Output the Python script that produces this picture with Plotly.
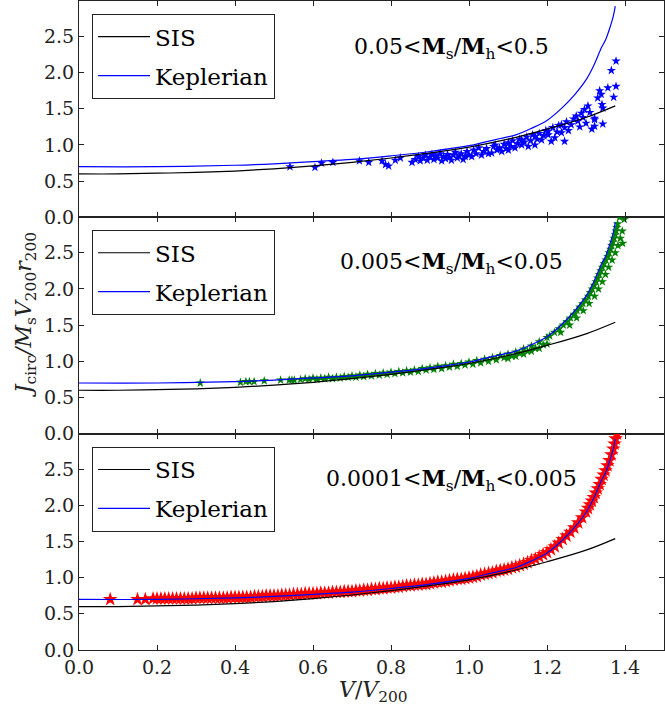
import plotly.graph_objects as go
from plotly.subplots import make_subplots

# ---------------- data ----------------
sis_x = [0.0, 0.1, 0.2, 0.3, 0.4, 0.5, 0.6, 0.7, 0.8, 0.9, 1.0, 1.1, 1.2, 1.3, 1.375]
sis_y = [0.60, 0.60, 0.61, 0.62, 0.64, 0.67, 0.71, 0.76, 0.82, 0.89, 0.97, 1.08, 1.22, 1.38, 1.54]

kep_x = [0.0, 0.2, 0.4, 0.5, 0.6, 0.7, 0.8, 0.9, 1.0, 1.04, 1.08, 1.12, 1.16, 1.2, 1.24,
         1.27, 1.3, 1.32, 1.34, 1.35, 1.36, 1.37, 1.375]
kep_y = [0.70, 0.70, 0.72, 0.74, 0.77, 0.80, 0.85, 0.91, 0.99, 1.04, 1.09, 1.14, 1.23, 1.34, 1.52,
         1.69, 1.90, 2.10, 2.35, 2.45, 2.60, 2.78, 2.92]

# top panel (0.05 < Ms/Mh < 0.5), blue stars
top_x = [0.541, 0.605, 0.622, 0.651, 0.719, 0.743, 0.777, 0.786, 0.794, 0.811, 0.824, 0.854,
         0.862, 0.870, 0.875, 0.882, 0.888, 0.893, 0.900, 0.905, 0.910, 0.915, 0.920, 0.926,
         0.930, 0.935, 0.940, 0.945, 0.950, 0.955, 0.960, 0.965, 0.970, 0.975, 0.980, 0.985,
         0.990, 0.995, 1.000, 1.007, 1.012, 1.018, 1.025, 1.032, 1.038, 1.045, 1.050, 1.058,
         1.063, 1.067, 1.072, 1.078, 1.084, 1.090, 1.095, 1.101, 1.101, 1.108, 1.112, 1.118,
         1.124, 1.130, 1.135, 1.135, 1.142, 1.148, 1.152, 1.158, 1.163, 1.169, 1.169, 1.175,
         1.180, 1.186, 1.192, 1.197, 1.203, 1.203, 1.211, 1.215, 1.220, 1.226, 1.230, 1.237,
         1.237, 1.245, 1.245, 1.250, 1.255, 1.262, 1.268, 1.275, 1.279, 1.284, 1.288, 1.292,
         1.296, 1.300, 1.305, 1.310, 1.315, 1.322, 1.322, 1.322, 1.330, 1.335, 1.339, 1.341,
         1.343, 1.343, 1.356, 1.365, 1.371, 1.377, 1.377]
top_y = [0.70, 0.69, 0.75, 0.76, 0.78, 0.76, 0.78, 0.73, 0.71, 0.79, 0.82, 0.76,
         0.80, 0.84, 0.78, 0.82, 0.86, 0.79, 0.83, 0.87, 0.80, 0.85, 0.82, 0.88,
         0.78, 0.84, 0.81, 0.87, 0.83, 0.79, 0.86, 0.90, 0.82, 0.85, 0.88, 0.80,
         0.84, 0.91, 0.86, 0.84, 0.93, 0.88, 0.96, 0.86, 0.91, 0.95, 0.88, 0.89,
         0.98, 1.00, 0.93, 0.96, 0.91, 1.01, 0.95, 0.93, 1.03, 0.98, 1.06, 0.96,
         1.02, 1.08, 1.00, 1.07, 1.04, 1.11, 0.98, 1.06, 1.14, 1.00, 1.12, 1.08,
         1.16, 1.07, 1.13, 1.20, 1.14, 1.19, 1.05, 1.24, 1.10, 1.18, 1.27, 1.17,
         1.28, 1.24, 1.05, 1.32, 1.20, 1.28, 1.36, 1.40, 1.33, 1.25, 1.44, 1.38,
         1.49, 1.30, 1.54, 1.45, 1.22, 1.35, 1.26, 1.37, 1.65, 1.75, 1.70, 1.56,
         1.51, 1.29, 1.79, 2.03, 1.66, 1.81, 2.16]

# middle panel (0.005 < Ms/Mh < 0.05), green stars
mid_x = [0.311, 0.414, 0.428, 0.437, 0.449, 0.475, 0.517, 0.539, 0.546, 0.552, 0.568,
         0.58, 0.60, 0.62, 0.64, 0.66, 0.68, 0.70, 0.72, 0.74, 0.76, 0.78, 0.80, 0.82, 0.84,
         0.86, 0.88, 0.90, 0.92, 0.94, 0.96, 0.98, 1.00, 1.02, 1.04, 1.06, 1.08, 1.10, 1.12,
         1.14, 1.16, 1.18, 1.20,
         0.59, 0.61, 0.63, 0.65, 0.67, 0.69, 0.71, 0.73, 0.75, 0.77, 0.79, 0.81, 0.83, 0.85,
         0.87, 0.89, 0.91, 0.93, 0.95, 0.97, 0.99, 1.01, 1.03, 1.05, 1.07, 1.09, 1.11, 1.13,
         1.15, 1.17, 1.19,
         1.10, 1.12, 1.14, 1.16, 1.18, 1.20,
         1.207, 1.219, 1.231, 1.242, 1.251, 1.260, 1.269, 1.277, 1.284, 1.292, 1.299, 1.306,
         1.311, 1.316, 1.321, 1.326, 1.330, 1.334, 1.338, 1.342, 1.346, 1.351, 1.356, 1.359,
         1.363, 1.366, 1.369, 1.372, 1.375, 1.377, 1.379, 1.381,
         1.235, 1.258, 1.276, 1.293, 1.308, 1.322, 1.332, 1.342, 1.350, 1.358, 1.367, 1.375,
         1.382, 1.388, 1.393,
         1.386, 1.398, 1.394]
mid_y = [0.70, 0.71, 0.72, 0.72, 0.72, 0.73, 0.74, 0.74, 0.74, 0.74, 0.75,
         0.76, 0.77, 0.77, 0.78, 0.78, 0.79, 0.80, 0.81, 0.82, 0.83, 0.84, 0.85, 0.86, 0.87,
         0.88, 0.90, 0.91, 0.93, 0.94, 0.96, 0.97, 0.99, 1.01, 1.03, 1.05, 1.08, 1.10, 1.13,
         1.17, 1.21, 1.27, 1.33,
         0.75, 0.75, 0.76, 0.76, 0.77, 0.78, 0.78, 0.79, 0.80, 0.81, 0.82, 0.83, 0.84, 0.85,
         0.86, 0.88, 0.89, 0.90, 0.92, 0.93, 0.95, 0.96, 0.98, 1.00, 1.02, 1.05, 1.07, 1.11,
         1.14, 1.18, 1.23,
         1.04, 1.07, 1.10, 1.14, 1.18, 1.24,
         1.35, 1.40, 1.45, 1.50, 1.55, 1.60, 1.65, 1.70, 1.75, 1.80, 1.85, 1.90,
         1.95, 2.00, 2.05, 2.10, 2.15, 2.20, 2.25, 2.30, 2.35, 2.40, 2.45, 2.50,
         2.55, 2.60, 2.65, 2.70, 2.75, 2.80, 2.85, 2.90,
         1.40, 1.50, 1.60, 1.70, 1.80, 1.90, 2.00, 2.10, 2.20, 2.30, 2.40, 2.50,
         2.60, 2.70, 2.80,
         2.99, 2.96, 2.63]

# bottom panel (0.0001 < Ms/Mh < 0.005), red stars
low_x = [0.08, 0.15, 0.17,
         0.19, 0.20, 0.21, 0.22, 0.23, 0.24, 0.25, 0.26, 0.27, 0.28, 0.29,
         0.30, 0.31, 0.32, 0.33, 0.34, 0.35, 0.36, 0.37, 0.38, 0.39,
         0.40, 0.41, 0.42, 0.43, 0.44, 0.45, 0.46, 0.47, 0.48, 0.49,
         0.50, 0.51, 0.52, 0.53, 0.54, 0.55, 0.56, 0.57, 0.58, 0.59,
         0.60, 0.61, 0.62, 0.63, 0.64, 0.65, 0.66, 0.67, 0.68, 0.69,
         0.70, 0.71, 0.72, 0.73, 0.74, 0.75, 0.76, 0.77, 0.78, 0.79,
         0.80, 0.81, 0.82, 0.83, 0.84, 0.85, 0.86, 0.87, 0.88, 0.89,
         0.90, 0.91, 0.92, 0.93, 0.94, 0.95, 0.96, 0.97, 0.98, 0.99,
         1.00, 1.01, 1.02, 1.03, 1.04, 1.05, 1.06, 1.07, 1.08, 1.09,
         1.10, 1.11, 1.12, 1.13, 1.14, 1.15, 1.16, 1.17, 1.18, 1.19,
         1.20, 1.21, 1.22, 1.23, 1.24, 1.25, 1.26, 1.27, 1.28, 1.29,
         1.30, 1.305, 1.31, 1.315, 1.32, 1.325, 1.33, 1.335, 1.34, 1.345,
         1.35, 1.355, 1.36, 1.365, 1.37, 1.373, 1.376, 1.379, 1.382]
low_y = [0.70, 0.70, 0.70,
         0.71, 0.71, 0.71, 0.71, 0.71, 0.71, 0.71, 0.71, 0.71, 0.71, 0.71,
         0.72, 0.72, 0.72, 0.72, 0.72, 0.72, 0.72, 0.72, 0.72, 0.73,
         0.73, 0.73, 0.73, 0.73, 0.73, 0.74, 0.74, 0.74, 0.75, 0.75,
         0.75, 0.75, 0.76, 0.76, 0.76, 0.77, 0.77, 0.77, 0.78, 0.78,
         0.78, 0.78, 0.79, 0.79, 0.79, 0.80, 0.80, 0.80, 0.81, 0.81,
         0.81, 0.82, 0.82, 0.83, 0.83, 0.84, 0.84, 0.85, 0.85, 0.86,
         0.86, 0.87, 0.87, 0.88, 0.89, 0.89, 0.90, 0.90, 0.91, 0.91,
         0.92, 0.93, 0.94, 0.94, 0.95, 0.96, 0.97, 0.98, 0.98, 0.99,
         1.00, 1.01, 1.02, 1.04, 1.05, 1.06, 1.07, 1.09, 1.10, 1.11,
         1.12, 1.14, 1.15, 1.17, 1.19, 1.21, 1.24, 1.26, 1.29, 1.32,
         1.35, 1.39, 1.43, 1.48, 1.53, 1.58, 1.63, 1.69, 1.76, 1.83,
         1.91, 1.96, 2.01, 2.06, 2.11, 2.17, 2.23, 2.29, 2.36, 2.42,
         2.48, 2.55, 2.62, 2.70, 2.78, 2.85, 2.92, 2.99, 3.05]

panel_labels = ["0.05&lt;<b>M</b><sub>s</sub>/<b>M</b><sub>h</sub>&lt;0.5",
                "0.005&lt;<b>M</b><sub>s</sub>/<b>M</b><sub>h</sub>&lt;0.05",
                "0.0001&lt;<b>M</b><sub>s</sub>/<b>M</b><sub>h</sub>&lt;0.005"]
x_ticks = [0.0, 0.2, 0.4, 0.6, 0.8, 1.0, 1.2, 1.4]
y_ticks = [0.0, 0.5, 1.0, 1.5, 2.0, 2.5]

# ---------------- figure ----------------
FONT = "DejaVu Serif"
fig = make_subplots(rows=3, cols=1, shared_xaxes=True, vertical_spacing=0)

scatter_sets = [(top_x, top_y, "#0000ff", 7), (mid_x, mid_y, "#008000", 7), (low_x, low_y, "#ff0000", 11)]
legend_names = ["legend", "legend2", "legend3"]

for i, (sx, sy, col, msize) in enumerate(scatter_sets):
    row = i + 1
    fig.add_trace(go.Scatter(x=sx, y=sy, mode="markers",
                             marker=dict(symbol="star", size=msize, color=col, line=dict(width=0)),
                             showlegend=False), row=row, col=1)
    fig.add_trace(go.Scatter(x=sis_x, y=sis_y, mode="lines", name="SIS",
                             line=dict(color="black", width=1.2, shape="spline"),
                             legend=legend_names[i], legendgroup=f"sis{i}"), row=row, col=1)
    fig.add_trace(go.Scatter(x=kep_x, y=kep_y, mode="lines", name="Keplerian",
                             line=dict(color="#0000ff", width=1.2, shape="spline"),
                             legend=legend_names[i], legendgroup=f"kep{i}"), row=row, col=1)

axis_common = dict(showgrid=False, zeroline=False, showline=True, linecolor="#222",
                   linewidth=1.2, mirror="allticks", ticks="inside", ticklen=5,
                   tickcolor="#222", tickwidth=1,
                   tickfont=dict(family=FONT, size=19, color="#222"))
for r in (1, 2, 3):
    fig.update_xaxes(range=[0, 1.5], tickvals=x_ticks, tickformat=".1f",
                     showticklabels=(r == 3), row=r, col=1, **axis_common)
    fig.update_yaxes(range=[0, 2.99], tickvals=y_ticks, tickformat=".1f",
                     row=r, col=1, **axis_common)

leg_common = dict(x=0.022, xanchor="left", yanchor="top", bgcolor="white",
                  bordercolor="#222", borderwidth=1.2,
                  font=dict(family=FONT, size=23, color="black"),
                  traceorder="grouped", tracegroupgap=6, itemwidth=52)
fig.update_layout(
    legend=dict(y=0.980, **leg_common),
    legend2=dict(y=0.647, **leg_common),
    legend3=dict(y=0.313, **leg_common),
)

ann_y = [0.9276, 0.596, 0.262]
for i, txt in enumerate(panel_labels):
    fig.add_annotation(text=txt, x=0.636, y=ann_y[i], xref="paper", yref="paper",
                       showarrow=False, xanchor="center", yanchor="middle",
                       font=dict(family=FONT, size=22, color="black"))

fig.add_annotation(text="<i>J</i><sub>circ</sub><i>/M</i><sub>s</sub><i>V</i><sub>200</sub><i>r</i><sub>200</sub>",
                   x=-0.092, y=0.516, xref="paper", yref="paper", textangle=-90,
                   showarrow=False, xanchor="center", yanchor="middle",
                   font=dict(family=FONT, size=22, color="#222"))
fig.add_annotation(text="<i>V</i>/<i>V</i><sub>200</sub>",
                   x=0.503, y=-0.0647, xref="paper", yref="paper",
                   showarrow=False, xanchor="center", yanchor="middle",
                   font=dict(family=FONT, size=22, color="#222"))

fig.update_layout(width=665, height=712, margin=dict(l=79, r=1, t=1, b=62),
                  paper_bgcolor="white", plot_bgcolor="white")

fig.write_html("out.html", config={"displayModeBar": False},
               post_script="document.body.style.margin='0px';")
